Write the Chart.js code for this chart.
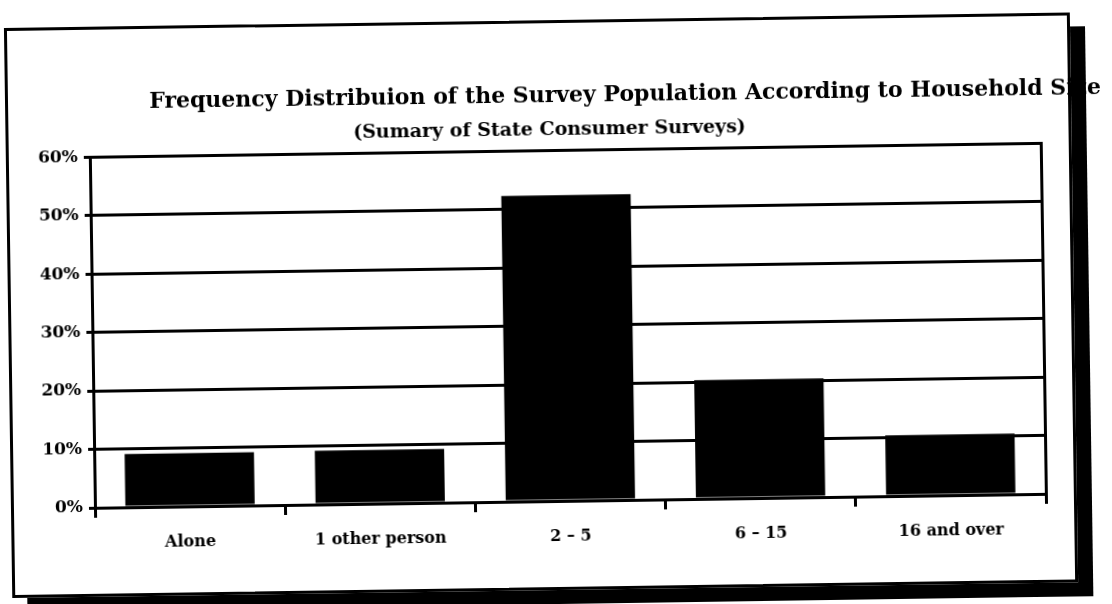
<!DOCTYPE html>
<html>
<head>
<meta charset="utf-8">
<script src="https://cdn.jsdelivr.net/npm/chart.js@4"></script>
<style>
  html, body { margin: 0; padding: 0; background: #fff; overflow: hidden; }
  #page { position: absolute; left: 0; top: 0; width: 1112px; height: 604px; transform: rotate(-0.84deg); transform-origin: 556px 302px; }
  #frame { position: absolute; left: 8px; top: 20px; width: 1060px; height: 564px; border: 3px solid #000; box-shadow: 15px 14px 0 #000; background: #fff; }
  #wrap { position: absolute; left: 0; top: 0; width: 1112px; height: 604px; }
</style>
</head>
<body>
<div id="page">
  <div id="frame"></div>
  <div id="wrap"><canvas id="chart"></canvas></div>
</div>
<script>
	var categories = ['Alone', '1 other person', '2 \u2013 5', '6 \u2013 15', '16 and over'];
	var shares = [9.1, 9.2, 52.3, 20.3, 10.4];
	var yTicks = [0, 10, 20, 30, 40, 50, 60];

	var ctx = document.getElementById('chart');
	var myChart = new Chart(ctx,
	{
		type: 'bar',
		data:
		{
			labels: categories,
			datasets:
			[{
				label: 'Share of survey population',
				data: shares,
				backgroundColor: '#000',
				borderWidth: 0,
				barPercentage: 0.68,
				categoryPercentage: 1
			}]
		},
		options:
		{
			responsive: true,
			maintainAspectRatio: false,
			animation: false,
			layout: { padding: { left: 0, right: 8, top: 0, bottom: 53 } },
			plugins:
			{
				legend: { display: false },
				tooltip: { enabled: false },
				title:
				{
					display: true,
					text: 'Frequency Distribuion of the Survey Population According to Household Size',
					align: 'end',
					color: '#000',
					font: { family: 'DejaVu Serif', size: 22, weight: 'bold' },
					padding: { top: 83, bottom: 9 }
				},
				subtitle:
				{
					display: true,
					text: '(Sumary of State Consumer Surveys)',
					color: '#000',
					font: { family: 'DejaVu Serif', size: 19, weight: 'bold' },
					padding: { top: 0, bottom: 9 }
				}
			},
			scales:
			{
				x:
				{
					afterFit: function (axis) { axis.height = 50; },
					grid: { offset: true, drawOnChartArea: false, color: '#000', lineWidth: 3, tickLength: 10 },
					border: { color: '#000', width: 3 },
					ticks: { color: '#000', padding: 16, font: { family: 'DejaVu Serif', size: 16, weight: 'bold' } }
				},
				y:
				{
					min: 0,
					max: 60,
					afterFit: function (axis) { axis.width = 92; },
					afterBuildTicks: function (axis) { axis.ticks = yTicks.map(function (v) { return { value: v }; }); },
					grid: { color: '#000', lineWidth: 3, tickLength: 6 },
					border: { color: '#000', width: 3 },
					ticks: { color: '#000', padding: 6, callback: function (v) { return v + '%'; }, font: { family: 'DejaVu Serif', size: 17, weight: 'bold' } }
				},
				yRight:
				{
					position: 'right',
					min: 0,
					max: 60,
					afterFit: function (axis) { axis.width = 61; },
					grid: { display: false },
					border: { display: true, color: '#000', width: 3 },
					ticks: { display: false }
				}
			}
		}
	});
</script>
</body>
</html>
